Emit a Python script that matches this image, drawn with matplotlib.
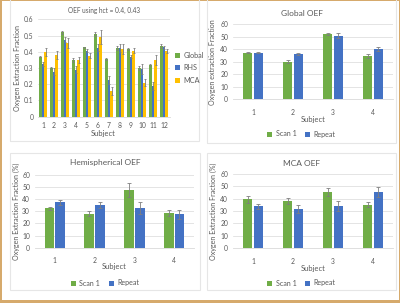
import matplotlib
matplotlib.use("Agg")
import matplotlib.pyplot as plt
from matplotlib.patches import Rectangle
import numpy as np

plt.rcParams["font.family"] = ["Lato", "DejaVu Sans"]

W, H = 400, 303
GREEN = "#70ad47"
BLUE = "#4472c4"
GOLD = "#ffc000"
TXT = "#595959"
GRID = "#d9d9d9"
ERR = "#7f7f7f"

# ---- data: top-left panel ----
subjects12 = [str(i) for i in range(1, 13)]
global12 = [0.37, 0.30, 0.52, 0.35, 0.427, 0.51, 0.355, 0.423, 0.417, 0.30, 0.32, 0.435]
rhs12 = [0.325, 0.277, 0.475, 0.29, 0.407, 0.425, 0.226, 0.425, 0.37, 0.292, 0.19, 0.427]
mca12 = [0.397, 0.38, 0.455, 0.35, 0.376, 0.49, 0.156, 0.415, 0.407, 0.21, 0.35, 0.405]
global12_err = [0.005, 0.005, 0.01, 0.01, 0.005, 0.01, 0.005, 0.01, 0.005, 0.01, 0.005, 0.01]
rhs12_err = [0.01, 0.02, 0.015, 0.02, 0.01, 0.02, 0.025, 0.025, 0.01, 0.03, 0.025, 0.01]
mca12_err = [0.025, 0.025, 0.03, 0.02, 0.015, 0.045, 0.025, 0.03, 0.015, 0.02, 0.03, 0.01]

# ---- data: 4-subject panels ----
subjects4 = ["1", "2", "3", "4"]
global_scan1 = [37, 30, 52, 34.5]
global_repeat = [37, 36, 50.5, 40]
global_scan1_err = [0.5, 1, 0.5, 1.5]
global_repeat_err = [0.5, 1, 2, 1.5]

hemi_scan1 = [32.5, 28, 47.5, 29]
hemi_repeat = [37.5, 35.5, 33, 27.5]
hemi_scan1_err = [1.5, 2, 6, 2.5]
hemi_repeat_err = [2, 2.5, 5, 4]

mca_scan1 = [39.5, 38, 45.5, 35]
mca_repeat = [34, 31.5, 34, 45.5]
mca_scan1_err = [3, 2.5, 3, 2]
mca_repeat_err = [2, 3.5, 4, 4]

fig = plt.figure(figsize=(W / 100, H / 100), dpi=100)
fig.patch.set_facecolor("#d6aa6c")


def box(x0, y0, x1, y1):
    return [x0 / W, 1 - y1 / H, (x1 - x0) / W, (y1 - y0) / H]


def fxy(x, y):
    return (x / W, 1 - y / H)


# white page
fig.patches.append(Rectangle((1.5 / W, 1 - 299.5 / H), 397 / W, 298.5 / H,
                             transform=fig.transFigure, facecolor="white",
                             edgecolor="none", zorder=-2))
# panel borders
for (x0, y0, x1, y1) in [(10, -2, 199, 141), (207, -2, 396, 143),
                         (10, 153, 200, 290), (207, 153, 396, 290)]:
    fig.patches.append(Rectangle((x0 / W, 1 - y1 / H), (x1 - x0) / W, (y1 - y0) / H,
                                 transform=fig.transFigure, facecolor="none",
                                 edgecolor="#e6e6e6", lw=0.8, zorder=-1))

TICK_FS = 4.9
LAB_FS = 5.4


def style(ax, ylim, yticks):
    ax.set_facecolor("none")
    for s in ["top", "right", "left"]:
        ax.spines[s].set_visible(False)
    ax.spines["bottom"].set_color(GRID)
    ax.spines["bottom"].set_linewidth(0.6)
    ax.set_ylim(*ylim)
    ax.set_yticks(yticks)
    ax.yaxis.grid(True, color=GRID, lw=0.5)
    ax.set_axisbelow(True)
    ax.tick_params(length=0, labelsize=TICK_FS, colors=TXT, pad=3)


# ---- top-left ----
ax = fig.add_axes(box(37.5, 19.3, 169.5, 116.7))
x = np.arange(1, 13)
bw = 0.23
ekw = dict(ecolor=ERR, elinewidth=0.6, capsize=1.0, capthick=0.6)
ax.bar(x - bw, global12, bw, color=GREEN, yerr=global12_err, error_kw=ekw, label="Global")
ax.bar(x, rhs12, bw, color=BLUE, yerr=rhs12_err, error_kw=ekw, label="RHS")
ax.bar(x + bw, mca12, bw, color=GOLD, yerr=mca12_err, error_kw=ekw, label="MCA")
style(ax, (0, 0.6), np.arange(0, 0.61, 0.1))
ax.set_yticklabels(["0", "0.1", "0.2", "0.3", "0.4", "0.5", "0.6"])
ax.tick_params(axis="y", pad=3)
ax.tick_params(axis="x", pad=4)
ax.set_xlim(0.5, 12.5)
ax.set_xticks(x)
ax.set_xticklabels(subjects12)
fig.text(*fxy(104.5, 10), "OEF using hct = 0.4, 0.43", fontsize=4.7, color=TXT,
         ha="center", va="center")
ax.set_xlabel("Subject", fontsize=LAB_FS, color=TXT)
ax.xaxis.set_label_coords(0.5, (116.7 - 134) / 97.4)
ax.set_ylabel("Oxygen Extraction Fraction", fontsize=LAB_FS - 0.3, color=TXT)
ax.yaxis.set_label_coords((18 - 37.5) / 132, 0.5)
ax.xaxis.label.set_va("center")
ax.yaxis.label.set_va("center")
ax.legend(loc="center left", bbox_to_anchor=(1.0, 0.5), frameon=False, fontsize=5.2,
          labelcolor=TXT, handlelength=0.7, handleheight=0.7, handletextpad=0.5,
          labelspacing=0.8, borderaxespad=0.3)


def four_panel(rect, panel_cx, title_y, xlab_y, ylab_x, leg_y, title, ylabel, s1, r1, e1, er1):
    ax = fig.add_axes(box(*rect))
    x0, y0, x1, y1 = rect
    x = np.arange(1, 5)
    bw = 0.24
    ekw = dict(ecolor=ERR, elinewidth=0.6, capsize=1.2, capthick=0.6)
    ax.bar(x - 0.135, s1, bw, color=GREEN, yerr=e1, error_kw=ekw, label="Scan 1")
    ax.bar(x + 0.135, r1, bw, color=BLUE, yerr=er1, error_kw=ekw, label="Repeat")
    style(ax, (0, 60), np.arange(0, 61, 10))
    ax.tick_params(axis="y", pad=3.5)
    ax.set_xlim(0.5, 4.5)
    ax.set_xticks(x)
    ax.set_xticklabels(subjects4)
    ax.tick_params(axis="x", pad=7)
    fig.text(*fxy(panel_cx, title_y), title, fontsize=6.0, color=TXT,
             ha="center", va="center")
    ax.set_xlabel("Subject", fontsize=LAB_FS, color=TXT)
    ax.xaxis.set_label_coords(0.5, (y1 - xlab_y) / (y1 - y0))
    ax.xaxis.label.set_va("center")
    ax.set_ylabel(ylabel, fontsize=LAB_FS - 0.3, color=TXT)
    ax.yaxis.set_label_coords((ylab_x - x0) / (x1 - x0), 0.5)
    ax.yaxis.label.set_va("center")
    h, l = ax.get_legend_handles_labels()
    fig.legend(h, l, loc="center", bbox_to_anchor=fxy(panel_cx, leg_y), ncol=2,
               frameon=False, fontsize=TICK_FS + 0.2, labelcolor=TXT, handlelength=0.7,
               handleheight=0.7, handletextpad=0.5, columnspacing=1.2,
               borderaxespad=0, borderpad=0)
    return ax


four_panel((233, 24, 393, 99.3), 301.5, 13, 119, 213, 134, "Global OEF",
           "Oxygen extraction Fraction",
           global_scan1, global_repeat, global_scan1_err, global_repeat_err)
four_panel((35, 175, 194, 247.7), 105, 163, 267, 16.5, 283, "Hemispherical OEF",
           "Oxygen Extraction Fraction (%)",
           hemi_scan1, hemi_repeat, hemi_scan1_err, hemi_repeat_err)
four_panel((233, 174, 393, 248), 301.5, 163, 268, 213, 283, "MCA OEF",
           "Oxygen Extraction Fraction (%)",
           mca_scan1, mca_repeat, mca_scan1_err, mca_repeat_err)

fig.savefig("out.png", dpi=100, facecolor=fig.get_facecolor())
